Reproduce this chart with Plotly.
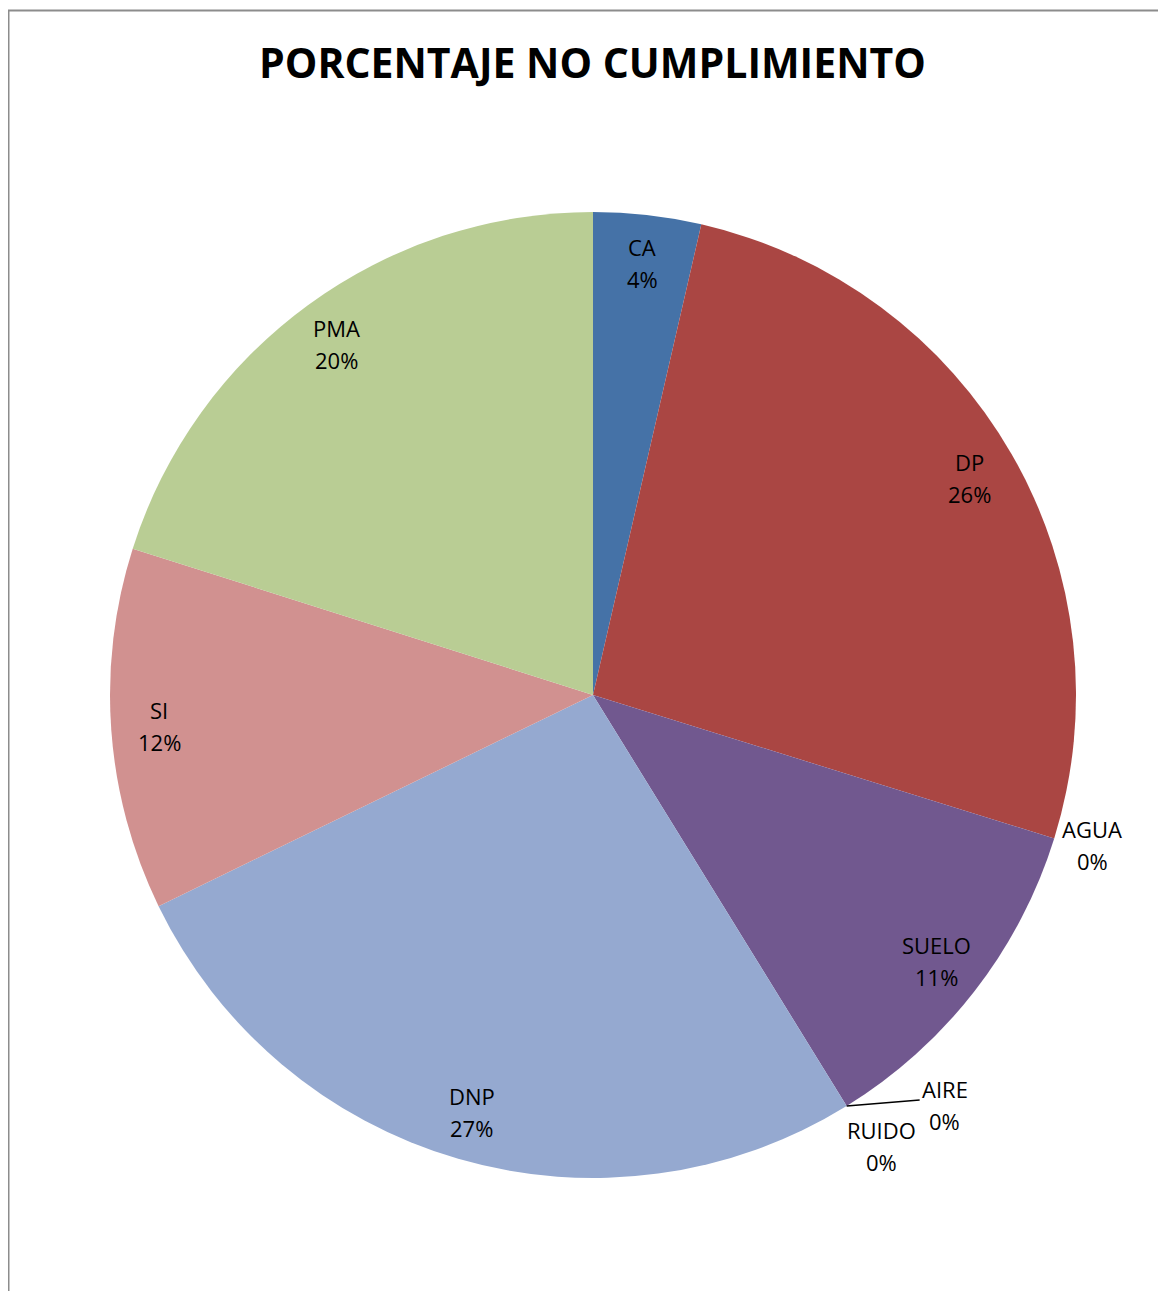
import math
import plotly.graph_objects as go

categories = ["CA", "DP", "AGUA", "SUELO", "AIRE", "RUIDO", "DNP", "SI", "PMA"]
values = [3.6, 26.2, 0, 11.4, 0, 0, 26.6, 12.1, 20.1]
colors = ["#4572A7", "#AA4643", "#89A54E", "#71588F", "#4198AF", "#DB843D",
          "#95A9D0", "#D19190", "#B9CD94"]
title_text = "PORCENTAJE NO CUMPLIMIENTO"

W, H = 1166, 1291
OFF = 8  # browser body margin
cx, cy, R = 593 - OFF, 695 - OFF, 483

fig = go.Figure(go.Pie(
    labels=categories, values=values, sort=False, direction="clockwise",
    rotation=0, marker=dict(colors=colors, line=dict(width=0)),
    textinfo="none", hoverinfo="label+percent", showlegend=False,
    domain=dict(x=[(cx - R) / W, (cx + R) / W], y=[(H - cy - R) / H, (H - cy + R) / H]),
))

total = sum(values)
font = dict(family="Open Sans, Lato, sans-serif", size=22, color="#000000")
annotations = []
shapes = []

def add_label(name, pct, px, py):
    for txt, dy in ((name, -16), (pct, 16)):
        annotations.append(dict(x=px / W, y=1 - (py + dy) / H, xref="paper", yref="paper",
                                text=txt, showarrow=False, font=font,
                                xanchor="center", yanchor="middle"))

# offsets (pixels) for labels of zero-size slices placed outside the pie
outside_offsets = {"AGUA": (38, 7), "AIRE": (98, -1), "RUIDO": (35, 40)}

cum = 0.0
for name, v in zip(categories, values):
    frac = v / total
    mid = (cum + frac / 2) * 2 * math.pi
    pct = f"{round(frac * 100)}%"
    if v > 0:
        r = 0.9 * R
        px, py = cx + r * math.sin(mid), cy - r * math.cos(mid)
        add_label(name, pct, px, py)
    else:
        ex, ey = cx + R * math.sin(mid), cy - R * math.cos(mid)
        ox, oy = outside_offsets[name]
        add_label(name, pct, ex + ox, ey + oy)
        if name == "AIRE":
            shapes.append(dict(type="line", xref="paper", yref="paper",
                               x0=ex / W, y0=1 - ey / H, x1=(ex + 73) / W, y1=1 - (ey - 6) / H,
                               line=dict(color="#000000", width=1.5)))
    cum += frac

annotations.append(dict(x=(592 - OFF) / W, y=1 - (62 - OFF) / H, xref="paper", yref="paper",
                        text="<b>" + title_text + "</b>", showarrow=False,
                        font=dict(family="Open Sans, Lato, sans-serif", size=41, color="#000000"),
                        xanchor="center", yanchor="middle"))

# chart frame
shapes.append(dict(type="rect", xref="paper", yref="paper",
                   x0=0.5 / W, x1=1.05, y0=-0.05, y1=1 - 2.5 / H,
                   line=dict(color="#8C8C8C", width=2)))

fig.update_layout(width=W, height=H, margin=dict(l=0, r=0, t=0, b=0),
                  paper_bgcolor="white", plot_bgcolor="white",
                  annotations=annotations, shapes=shapes)
fig.write_html("out.html")
